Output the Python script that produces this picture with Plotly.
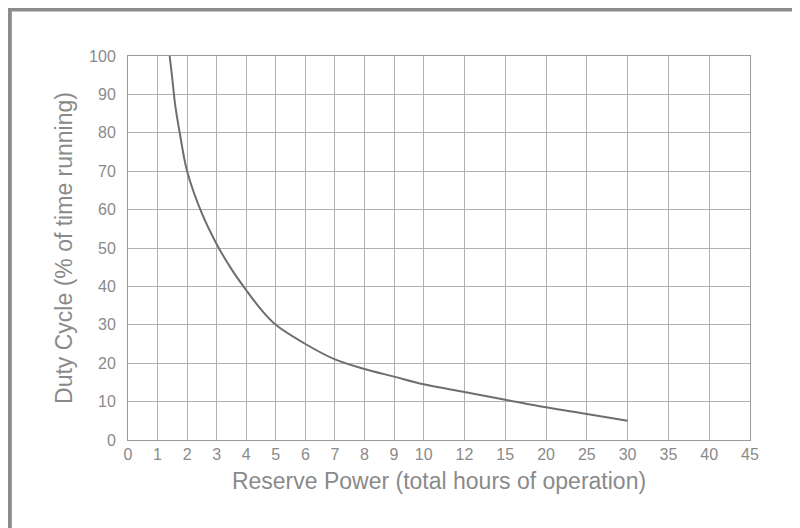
import plotly.graph_objects as go

tick_vals = [0,1,2,3,4,5,6,7,8,9,10,12,15,20,25,30,35,40,45]
hours = [1.41,1.5,1.6,1.75,2,2.5,3,3.5,4,4.5,5,6,7,8,9,10,12,15,20,25,30]
duty = [100,94,87,80,70,59,51,44.5,39,34,30,25,21,18.5,16.5,14.5,12.5,10.5,8.5,6.8,5]

def pos(v):
    if v <= 10:
        return v
    pts = [(10,10),(12,11.38),(15,12.76),(20,14.14),(25,15.52),(30,16.9),(35,18.28),(40,19.66),(45,21.04)]
    for (a,pa),(b,pb) in zip(pts, pts[1:]):
        if v <= b:
            return pa + (v-a)/(b-a)*(pb-pa)
    return pts[-1][1]

fig = go.Figure(go.Scatter(x=[pos(h) for h in hours], y=duty, mode="lines",
                           line=dict(color="#6e6e6e", width=2, shape="spline"), hoverinfo="skip"))
font_c = "#8a8a8a"
fig.update_layout(
    width=800, height=528, paper_bgcolor="white", plot_bgcolor="white",
    margin=dict(l=120, r=58, t=48, b=96, autoexpand=False), showlegend=False,
    font=dict(family="Liberation Sans, Arial", color=font_c),
    shapes=[dict(type="rect", xref="paper", yref="paper", x0=-0.190, x1=1.090, y0=-0.245, y1=1.121,
                 line=dict(color="#8c8c8c", width=4))],
)
fig.update_xaxes(range=[0, pos(45)], tickvals=[pos(v) for v in tick_vals],
                 ticktext=[str(v) for v in tick_vals], showgrid=True, gridcolor="#b0b0b0",
                 gridwidth=1, zeroline=False, showline=True, linecolor="#9a9a9a", mirror=True,
                 tickfont=dict(size=16, color=font_c), ticks="", automargin=False,
                 title=dict(text="Reserve Power (total hours of operation)", font=dict(size=23, color=font_c), standoff=10))
fig.update_yaxes(range=[0, 100], dtick=10, showgrid=True, gridcolor="#b0b0b0", gridwidth=1,
                 zeroline=False, showline=True, linecolor="#9a9a9a", mirror=True,
                 tickfont=dict(size=16, color=font_c), ticks="", ticklabelstandoff=8, automargin=False,
                 title=dict(text="Duty Cycle (% of time running)", font=dict(size=23, color=font_c), standoff=10))
fig.write_html("out.html")
